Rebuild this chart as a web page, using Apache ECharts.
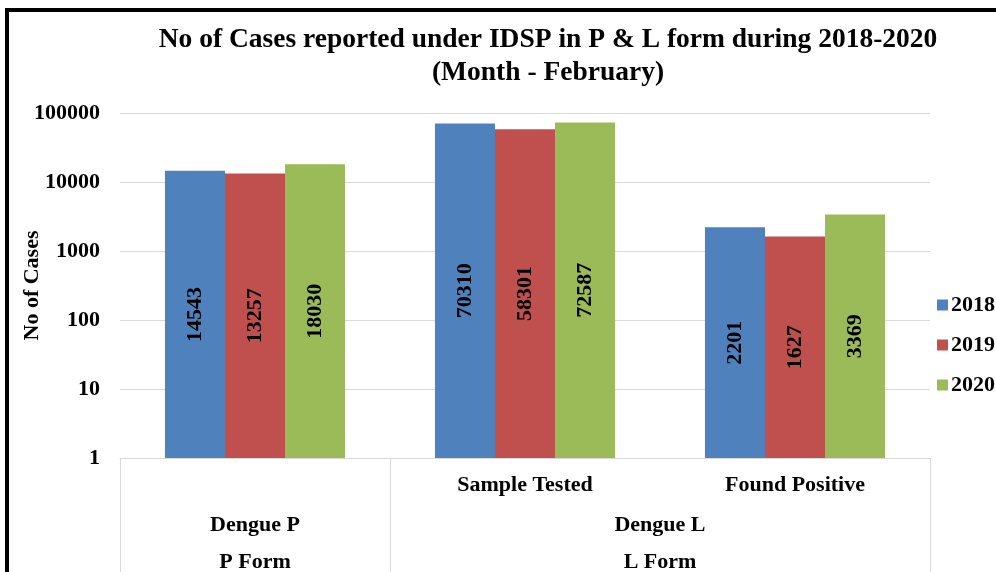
<!DOCTYPE html>
<html>
<head>
<meta charset="utf-8">
<script src="https://cdn.jsdelivr.net/npm/echarts@6/dist/echarts.min.js"></script>
<style>
  html, body { margin: 0; padding: 0; background: #fff; }
  #chart { width: 996px; height: 572px; }
</style>
</head>
<body>
<div id="chart"></div>
<script>
// data
const categories = ['', 'Sample Tested', 'Found Positive']
const groupLabels = ['Dengue P', 'Dengue L']
const formLabels = ['P Form', 'L Form']
const groupSpans = [1, 2] // how many categories each group covers
const years = ['2018', '2019', '2020']
const values2018 = [14543, 70310, 2201]
const values2019 = [13257, 58301, 1627]
const values2020 = [18030, 72587, 3369]
const colors = ['#4F81BD', '#C0504D', '#9BBB59']

const font = "'Liberation Serif', 'Times New Roman', serif"
const gridColor = '#d9d9d9'

// group centres / boundaries on a 0..n value scale
let groupCenters = []
let groupEdges = [0]
let pos = 0
for (let i = 0; i < groupSpans.length; i++) {
  groupCenters.push(pos + groupSpans[i] / 2)
  pos += groupSpans[i]
  groupEdges.push(pos)
}

function levelAxis (labels, offset) {
  return {
    type: 'value',
    position: 'bottom',
    min: 0,
    max: categories.length,
    offset: offset,
    axisLine: {show: false},
    axisTick: {show: false},
    splitLine: {show: false},
    axisLabel: {
      customValues: groupCenters,
      margin: 16,
      color: '#000',
      fontFamily: font,
      fontWeight: 'bold',
      fontSize: 22,
      formatter: (v) => {
        let idx = groupCenters.indexOf(v)
        return idx >= 0 ? labels[idx] : ''
      }
    }
  }
}

const seriesData = [values2018, values2019, values2020]

const chart = echarts.init(document.getElementById('chart'))
chart.setOption({
  backgroundColor: '#fff',
  animation: false,
  title: {
    text: 'No of Cases reported under IDSP in P & L form during 2018-2020\n(Month - February)',
    left: 543,
    top: 18,
    textAlign: 'center',
    textStyle: {
      fontFamily: font,
      fontWeight: 'bold',
      fontSize: 27.5,
      lineHeight: 33,
      color: '#000'
    }
  },
  legend: {
    orient: 'vertical',
    left: 932,
    top: 289,
    itemWidth: 11,
    itemHeight: 11,
    itemGap: 18,
    icon: 'rect',
    textStyle: {fontFamily: font, fontWeight: 'bold', fontSize: 22, color: '#000', padding: [0, 0, 0, -2]},
    data: years
  },
  grid: {left: 120, right: 66, top: 113, bottom: 114, outerBoundsMode: 'none', containLabel: false},
  xAxis: [
    {
      type: 'category',
      data: categories,
      axisLine: {lineStyle: {color: gridColor}},
      axisTick: {show: false},
      axisLabel: {margin: 16, color: '#000', fontFamily: font, fontWeight: 'bold', fontSize: 22}
    },
    levelAxis(groupLabels, 40),
    levelAxis(formLabels, 77),
    { // table lines under the axis
      type: 'value',
      position: 'bottom',
      min: 0,
      max: categories.length,
      axisLine: {show: false},
      splitLine: {show: false},
      axisLabel: {show: false},
      axisTick: {
        show: true,
        customValues: groupEdges,
        length: 130,
        lineStyle: {color: gridColor, width: 1}
      }
    }
  ],
  yAxis: {
    type: 'log',
    logBase: 10,
    min: 1,
    max: 100000,
    name: 'No of Cases',
    nameLocation: 'middle',
    nameGap: 77,
    nameMoveOverlap: false,
    nameTextStyle: {fontFamily: font, fontWeight: 'bold', fontSize: 22, color: '#000'},
    axisLine: {show: false},
    axisTick: {show: false},
    axisLabel: {
      margin: 20,
      color: '#000',
      fontFamily: font,
      fontWeight: 'bold',
      fontSize: 22,
      formatter: (v) => String(Math.round(v))
    },
    splitLine: {lineStyle: {color: gridColor}}
  },
  series: years.map((y, i) => ({
    name: y,
    type: 'bar',
    data: seriesData[i],
    barGap: 0,
    barCategoryGap: '33.3%',
    itemStyle: {color: colors[i]},
    label: {
      show: true,
      position: 'inside',
      rotate: 90,
      color: '#000',
      fontFamily: font,
      fontWeight: 'bold',
      fontSize: 22
    }
  })),
  graphic: [{
    type: 'rect',
    shape: {x: 7, y: 10, width: 1200, height: 800},
    style: {fill: 'none', stroke: '#000', lineWidth: 4},
    silent: true
  }]
})
</script>
</body>
</html>
